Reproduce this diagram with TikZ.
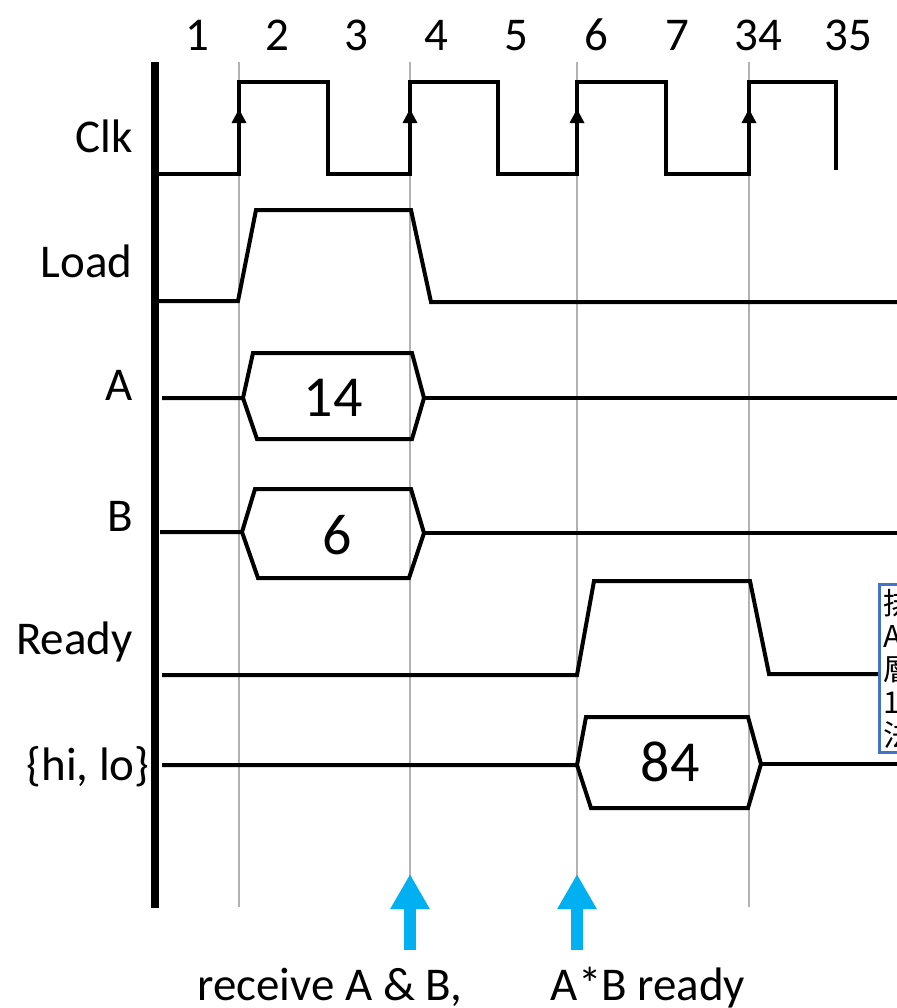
\documentclass[tikz,border=0pt]{standalone}
\usepackage{fontspec}
\setmainfont{Carlito}
\newfontfamily\cjk{Noto Sans CJK TC}
\usetikzlibrary{arrows.meta}

\begin{document}
\begin{tikzpicture}[x=0.5pt,y=-0.5pt,
		sig/.style={line width=2pt},
		tick/.style={draw=gray!60,line width=1pt},
		lbl/.style={font=\fontsize{23.5pt}{28pt}\selectfont,inner sep=0},
		val/.style={font=\fontsize{29pt}{34pt}\selectfont,inner sep=0},
		cue/.style={draw={rgb,255:red,0;green,176;blue,240},line width=6pt,-{Triangle[length=17.5pt,width=18.5pt]}}]
		\useasboundingbox (0,0) rectangle (897,1008);
		\clip (0,0) rectangle (897,1008);
		% cycle numbers and grid
		\foreach \n/\x in {1/197,2/277,3/356,4/436,5/516,6/596,7/677,34/758,35/848}
			\node[lbl,anchor=base] (cyc\n) at (\x,50) {\n};
		\foreach \x in {239,410,577,749}
			\draw[tick] (\x,62) -- (\x,907);
		\draw[line width=4pt] (155,62) -- (155,908);
		% signal names
		\node[lbl,anchor=base east] (clk) at (133,152) {Clk};
		\node[lbl,anchor=base east] (load) at (133,277) {Load};
		\node[lbl,anchor=base east] (siga) at (133,400) {A};
		\node[lbl,anchor=base east] (sigb) at (133,531) {B};
		\node[lbl,anchor=base east] (ready) at (133,654) {Ready};
		\node[lbl,anchor=base east] (hilo) at (150,780) {\{hi, lo\}};
		% clock
		\draw[sig] (155,174) -- (239,174) -- (239,82) -- (328,82) -- (328,174) -- (410,174) -- (410,82) -- (498,82) -- (498,174)
			-- (577,174) -- (577,82) -- (666,82) -- (666,174) -- (749,174) -- (749,82) -- (836,82) -- (836,170);
		\foreach \x in {239,410,577,749}
			\fill (\x-7.5,123) -- (\x+7.5,123) -- (\x,109) -- cycle;
		% load
		\draw[sig] (155,301) -- (238,301) -- (256,210) -- (411,210) -- (431,302) -- (897,302);
		% A bus
		\draw[sig] (162,398) -- (243,398) -- (253,353) -- (412,353) -- (424,398) -- (412,439) -- (257,439) -- (243,398);
		\draw[sig] (424,398) -- (897,398);
		\node[val] (vala) at (333,398) {14};
		% B bus
		\draw[sig] (160,532) -- (242,532) -- (255,489) -- (411,489) -- (424,533) -- (409,578) -- (258,578) -- (242,532);
		\draw[sig] (424,533) -- (897,533);
		\node[val] (valb) at (337,535) {6};
		% ready
		\draw[sig] (162,675) -- (577,675) -- (594,581) -- (750,581) -- (769,674) -- (878,674);
		% product bus
		\draw[sig] (162,765) -- (577,765) -- (586,717) -- (748,717) -- (761,764) -- (748,808) -- (591,808) -- (577,765);
		\draw[sig] (761,764) -- (897,764);
		\node[val] (valp) at (670,762) {84};
		% note box on the right
		\draw[draw={rgb,255:red,68;green,114;blue,196},line width=1.5pt,fill=white] (879,584) rectangle (930,752);
		\node[anchor=north west,inner sep=0,align=left,font=\cjk\fontsize{15pt}{16.5pt}\selectfont] (note) at (883,589) {排\\A\\層\\1\\法};
		% events
		\draw[cue] (410,950) -- (410,874);
		\draw[cue] (577,950) -- (577,874);
		\node[lbl,anchor=base] (recv) at (330,1000) {receive A \& B,};
		\node[lbl,anchor=base] (done) at (648,1000) {A*B ready};
\end{tikzpicture}
\end{document}
